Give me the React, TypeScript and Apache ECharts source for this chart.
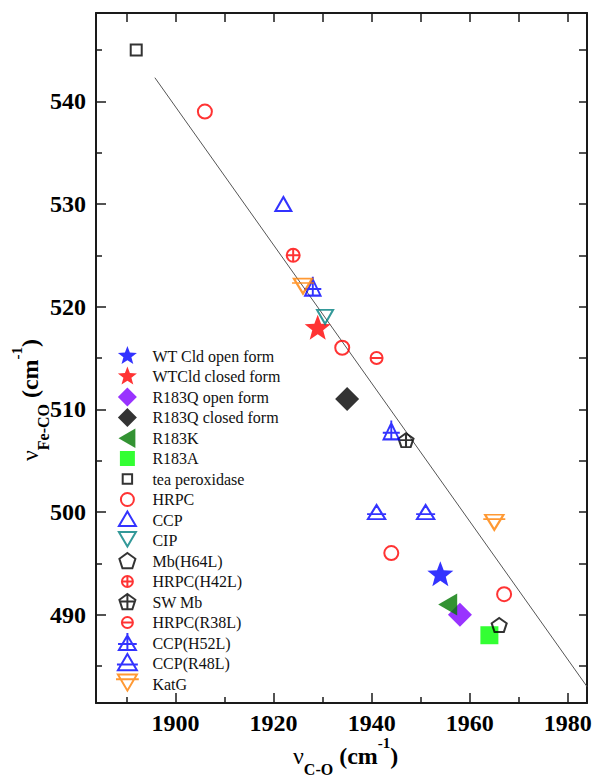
import React, { useEffect, useRef } from "react";
import * as echarts from "echarts";

// ---------- data ----------
const xRange = [1883.8, 1983.9];
const yRange = [481.4, 548.6];
const xTickLabels = [1900, 1920, 1940, 1960, 1980];
const xMinorTicks = [1890, 1910, 1930, 1950, 1970];
const yTickLabels = [490, 500, 510, 520, 530, 540];
const yMinorTicks = [485, 495, 505, 515, 525, 535, 545];

const wtCldOpen = [[1954, 494]];
const wtCldClosed = [[1929, 518]];
const r183qOpen = [[1958, 490]];
const r183qClosed = [[1935, 511]];
const r183k = [[1955.5, 491]];
const r183a = [[1964, 488]];
const teaPeroxidase = [[1892, 545]];
const hrpc = [[1906, 539], [1934, 516], [1944, 496], [1967, 492]];
const ccp = [[1922, 530]];
const cip = [[1930.5, 519]];
const mbH64L = [[1966, 489]];
const hrpcH42L = [[1924, 525]];
const swMb = [[1947, 507]];
const hrpcR38L = [[1941, 515]];
const ccpH52L = [[1928, 522], [1944, 508]];
const ccpR48L = [[1941, 500], [1951, 500]];
const katG = [[1926, 522], [1965, 499]];
const fitLine = [[1895.8, 542.3], [1983.9, 483.0]];

// ---------- symbol shapes (0..20 box) ----------
const CIRCLE = "M0 10 A10 10 0 1 1 20 10 A10 10 0 1 1 0 10 Z";
const PENT = "M10 0 L20 7.26 L16.18 19 L3.82 19 L0 7.26 Z";
const SHAPES: Record<string, string> = {
  star: "M10 0 L12.47 6.6 L19.51 6.91 L13.99 11.3 L15.88 18.09 L10 14.2 L4.12 18.09 L6.01 11.3 L0.49 6.91 L7.53 6.6 Z",
  diamond: "M10 0 L20 10 L10 20 L0 10 Z",
  leftTri: "M0 11 L19 0 L19 22 Z",
  square: "M0 0 L20 0 L20 20 L0 20 Z",
  circle: CIRCLE,
  triangle: "M10 0 L20 17 L0 17 Z",
  invTri: "M0 0 L20 0 L10 17 Z",
  pentagon: PENT,
  circlePlus: CIRCLE + " M0 10 L20 10 M10 0 L10 20",
  pentPlus: PENT + " M0 9.5 L20 9.5 M10 0 L10 19",
  circleMinus: CIRCLE + " M0 10 L20 10",
  triPlus: "M10 0 L20 17 L0 17 Z M-1 10 L21 10 M10 -3 L10 17",
  triMinus: "M10 0 L20 17 L0 17 Z M-1 11 L21 11",
  invTriMinus: "M0 0 L20 0 L10 17 Z M-2 5 L22 5",
};

type Def = {
  name: string;
  data: number[][];
  shape: string;
  size: number[];
  lk: number;
  color: string;
  hollow: boolean;
};

const defs: Def[] = [
  { name: "WT Cld open form", data: wtCldOpen, shape: "star", size: [26, 25], lk: 1.1, color: "#0000ff", hollow: false },
  { name: "WTCld closed form", data: wtCldClosed, shape: "star", size: [26, 25], lk: 1.1, color: "#ff0000", hollow: false },
  { name: "R183Q open form", data: r183qOpen, shape: "diamond", size: [24, 24], lk: 0.95, color: "#8000ff", hollow: false },
  { name: "R183Q closed form", data: r183qClosed, shape: "diamond", size: [24, 24], lk: 0.95, color: "#000000", hollow: false },
  { name: "R183K", data: r183k, shape: "leftTri", size: [19, 22], lk: 0.95, color: "#007800", hollow: false },
  { name: "R183A", data: r183a, shape: "square", size: [18, 18], lk: 0.75, color: "#00ff00", hollow: false },
  { name: "tea peroxidase", data: teaPeroxidase, shape: "square", size: [11, 11], lk: 0.47, color: "#000000", hollow: true },
  { name: "HRPC", data: hrpc, shape: "circle", size: [14, 14], lk: 0.65, color: "#ff0000", hollow: true },
  { name: "CCP", data: ccp, shape: "triangle", size: [16, 14], lk: 0.85, color: "#0000ff", hollow: true },
  { name: "CIP", data: cip, shape: "invTri", size: [16, 14], lk: 0.85, color: "#008080", hollow: true },
  { name: "Mb(H64L)", data: mbH64L, shape: "pentagon", size: [15, 14], lk: 0.8, color: "#000000", hollow: true },
  { name: "HRPC(H42L)", data: hrpcH42L, shape: "circlePlus", size: [13, 13], lk: 0.55, color: "#ff0000", hollow: true },
  { name: "SW Mb", data: swMb, shape: "pentPlus", size: [15, 14], lk: 0.8, color: "#000000", hollow: true },
  { name: "HRPC(R38L)", data: hrpcR38L, shape: "circleMinus", size: [12, 12], lk: 0.55, color: "#ff0000", hollow: true },
  { name: "CCP(H52L)", data: ccpH52L, shape: "triPlus", size: [17, 19], lk: 0.95, color: "#0000ff", hollow: true },
  { name: "CCP(R48L)", data: ccpR48L, shape: "triMinus", size: [19, 14], lk: 0.95, color: "#0000ff", hollow: true },
  { name: "KatG", data: katG, shape: "invTriMinus", size: [22, 15], lk: 0.95, color: "#ff8000", hollow: true },
];

const SERIF = "Liberation Serif, Times New Roman, serif";
const AXIS_COLOR = "#1a1a1a";
const LEGEND_H = 20;

function legendIcon(shape: string, k: number): string {
  const S = LEGEND_H / k;
  const p = Math.max(0, (S - 20) / 2);
  return `path://M${-p} ${-p} M${20 + p} ${20 + p} ` + SHAPES[shape];
}

function itemStyleOf(d: Def) {
  return d.hollow
    ? { color: "transparent", borderColor: d.color, borderWidth: 2 }
    : { color: d.color, borderColor: d.color, borderWidth: 0 };
}

// legend icons all get a 2px stroke so every row has the same height
function legendStyleOf(d: Def) {
  return d.hollow
    ? { color: "transparent", borderColor: d.color, borderWidth: 2 }
    : { color: d.color, borderColor: "transparent", borderWidth: 2 };
}

const richLabel = {
  v: { fontFamily: SERIF, fontSize: 24, fontWeight: "normal", lineHeight: 42, verticalAlign: "middle", fill: "#000" },
  m: { fontFamily: SERIF, fontSize: 24, fontWeight: "bold", lineHeight: 42, verticalAlign: "middle", fill: "#000" },
  sub: { fontFamily: SERIF, fontSize: 16, fontWeight: "bold", lineHeight: 16, verticalAlign: "bottom", fill: "#000" },
  sup: { fontFamily: SERIF, fontSize: 15, fontWeight: "bold", lineHeight: 15, verticalAlign: "top", fill: "#000" },
};

export default function App() {
  const ref = useRef<HTMLDivElement>(null);

  useEffect(() => {
    document.body.style.margin = "0";
    if (!ref.current) return;
    const chart = echarts.init(ref.current, null, { renderer: "svg" });

    const baseAxis = {
      type: "value" as const,
      splitLine: { show: false },
      axisPointer: { show: false },
    };
    const lineStyle = { color: AXIS_COLOR, width: 2 };
    const tickStyle = { color: AXIS_COLOR, width: 1.5 };
    const fmt = (v: number) => String(v);

    const option: any = {
      animation: false,
      backgroundColor: "#ffffff",
      textStyle: { fontFamily: SERIF },
      grid: { left: 96, right: 8, top: 13, bottom: 74, containLabel: false, outerBoundsMode: "none" },
      xAxis: [
        {
          ...baseAxis,
          position: "bottom",
          min: xRange[0],
          max: xRange[1],
          axisLine: { show: true, onZero: false, lineStyle },
          axisTick: { show: true, inside: true, length: 10, customValues: xTickLabels, lineStyle: tickStyle },
          axisLabel: {
            show: true,
            customValues: xTickLabels,
            formatter: fmt,
            fontFamily: SERIF,
            fontSize: 24,
            fontWeight: "bold",
            color: "#000",
            margin: 8,
          },
        },
        {
          ...baseAxis,
          position: "bottom",
          min: xRange[0],
          max: xRange[1],
          axisLine: { show: false, onZero: false },
          axisTick: { show: true, inside: true, length: 6, customValues: xMinorTicks, lineStyle: tickStyle },
          axisLabel: { show: false },
        },
        {
          ...baseAxis,
          position: "top",
          min: xRange[0],
          max: xRange[1],
          axisLine: { show: true, onZero: false, lineStyle },
          axisTick: {
            show: true,
            inside: true,
            length: 9,
            customValues: [...xMinorTicks, ...xTickLabels].sort((a, b) => a - b),
            lineStyle: tickStyle,
          },
          axisLabel: { show: false },
        },
      ],
      yAxis: [
        {
          ...baseAxis,
          position: "left",
          min: yRange[0],
          max: yRange[1],
          axisLine: { show: true, onZero: false, lineStyle },
          axisTick: { show: true, inside: true, length: 10, customValues: yTickLabels, lineStyle: tickStyle },
          axisLabel: {
            show: true,
            customValues: yTickLabels,
            formatter: fmt,
            fontFamily: SERIF,
            fontSize: 24,
            fontWeight: "bold",
            color: "#000",
            margin: 10,
          },
        },
        {
          ...baseAxis,
          position: "left",
          min: yRange[0],
          max: yRange[1],
          axisLine: { show: false, onZero: false },
          axisTick: { show: true, inside: true, length: 6, customValues: yMinorTicks, lineStyle: tickStyle },
          axisLabel: { show: false },
        },
        {
          ...baseAxis,
          position: "right",
          min: yRange[0],
          max: yRange[1],
          axisLine: { show: true, onZero: false, lineStyle },
          axisTick: {
            show: true,
            inside: true,
            length: 8,
            customValues: [...yMinorTicks, ...yTickLabels].sort((a, b) => a - b),
            lineStyle: tickStyle,
          },
          axisLabel: { show: false },
        },
      ],
      legend: {
        orient: "vertical",
        left: 115,
        top: 345,
        padding: 0,
        itemWidth: 40,
        itemHeight: LEGEND_H,
        itemGap: -1.5,
        symbolKeepAspect: true,
        selectedMode: false,
        textStyle: { fontFamily: SERIF, fontSize: 16, lineHeight: 18, color: "#111" },
        data: defs.map((d) => ({
          name: d.name,
          icon: legendIcon(d.shape, d.lk),
          itemStyle: legendStyleOf(d),
        })),
      },
      series: [
        {
          type: "line",
          name: "fit",
          data: fitLine,
          symbol: "none",
          lineStyle: { color: "#555", width: 1 },
          silent: true,
          z: 1,
        },
        ...defs.map((d) => ({
          type: "scatter",
          name: d.name,
          data: d.data,
          symbol: "path://" + SHAPES[d.shape],
          symbolSize: d.size,
          itemStyle: itemStyleOf(d),
          z: 3,
        })),
      ],
      graphic: [
        {
          type: "text",
          x: 293,
          y: 756,
          style: {
            text: "{v|ν}{sub|C-O}{m| (cm}{sup|-1}{m|)}",
            align: "left",
            verticalAlign: "middle",
            fill: "#000",
            rich: richLabel,
          },
        },
        {
          type: "text",
          x: 30,
          y: 400,
          rotation: Math.PI / 2,
          style: {
            text: "{v|ν}{sub|Fe-CO}{m| (cm}{sup|-1}{m|)}",
            align: "center",
            verticalAlign: "middle",
            fill: "#000",
            rich: richLabel,
          },
        },
      ],
    };

    chart.setOption(option);
    return () => {
      chart.dispose();
    };
  }, []);

  return <div ref={ref} style={{ width: 595, height: 777 }} />;
}
